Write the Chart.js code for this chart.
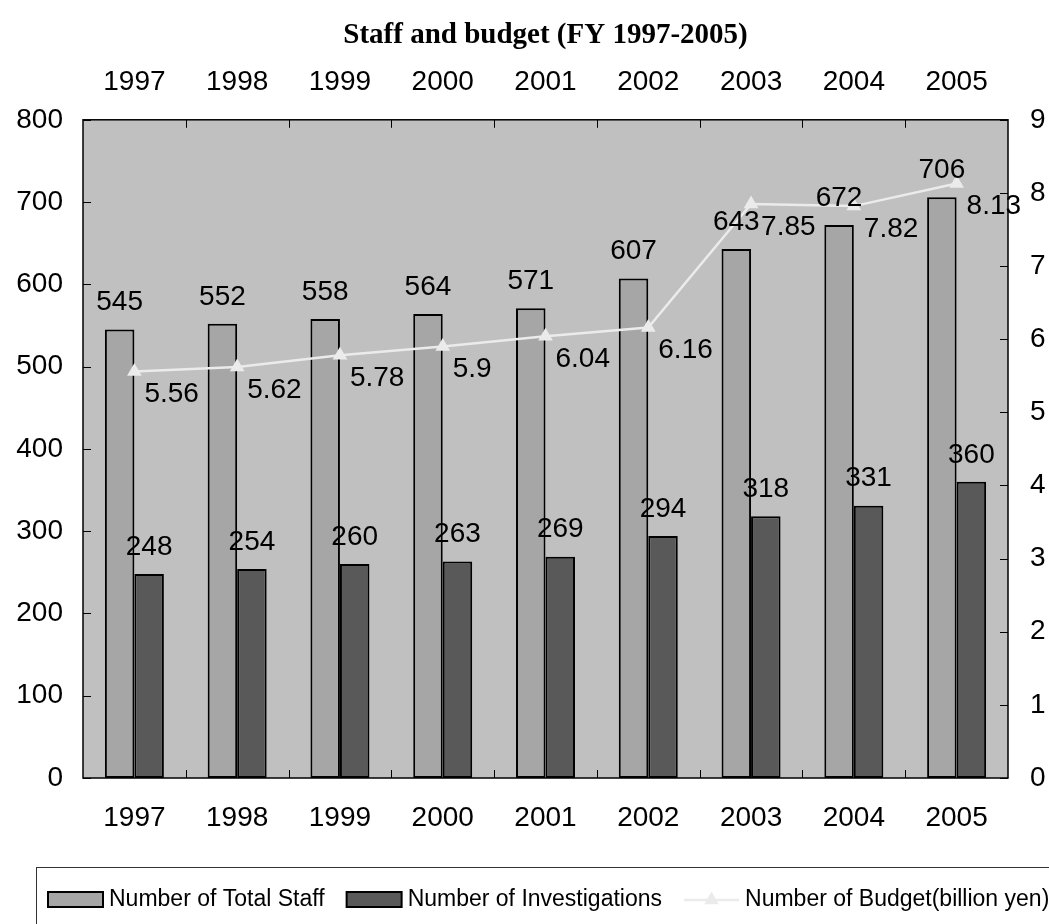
<!DOCTYPE html>
<html><head><meta charset="utf-8">
<script src="https://cdn.jsdelivr.net/npm/chart.js@4.4.0/dist/chart.umd.min.js"></script>
<style>html,body{margin:0;padding:0;background:#fff;}#wrap{position:relative;width:1049px;height:924px;}</style>
</head><body><div id="wrap"><canvas id="c" width="1049" height="924"></canvas></div>
<script>
const years = ['1997','1998','1999','2000','2001','2002','2003','2004','2005'];
const totalStaff = [545, 552, 558, 564, 571, 607, 643, 672, 706];
const investigations = [248, 254, 260, 263, 269, 294, 318, 331, 360];
const budget = [5.56, 5.62, 5.78, 5.9, 6.04, 6.16, 7.85, 7.82, 8.13];
const chartTitle = 'Staff and budget (FY 1997-2005)';
const seriesNames = ['Number of Total Staff', 'Number of Investigations', 'Number of Budget(billion yen)'];

const SANS = "'Liberation Sans', Arial, sans-serif";
const SERIF = "'Liberation Serif', 'Times New Roman', serif";
const C_LIGHT = '#a6a6a6', C_DARK = '#595959', C_LINE = '#ebebeb', C_BG = '#c0c0c0';

function hline(ctx, x1, y1, x2, y2) { ctx.beginPath(); ctx.moveTo(x1, y1); ctx.lineTo(x2, y2); ctx.stroke(); }

const decor = {
  id: 'decor',
  beforeDatasetsDraw(chart) {
    const { ctx, chartArea: a } = chart;
    ctx.save();
    ctx.fillStyle = C_BG;
    ctx.fillRect(a.left, a.top, a.right - a.left, a.bottom - a.top);
    ctx.restore();
  },
  afterDatasetsDraw(chart) {
    const { ctx, chartArea: a, scales } = chart;
    ctx.save();
    ctx.strokeStyle = '#000';
    ctx.lineWidth = 1.5;
    ctx.strokeRect(a.left, a.top, a.right - a.left, a.bottom - a.top);
    ctx.lineWidth = 1;
    scales.y.ticks.forEach(t => {
      const py = Math.round(scales.y.getPixelForValue(t.value)) + 0.5;
      hline(ctx, a.left, py, a.left + 8, py);
    });
    scales.y1.ticks.forEach(t => {
      const py = Math.round(scales.y1.getPixelForValue(t.value)) + 0.5;
      hline(ctx, a.right - 8, py, a.right, py);
    });
    for (let i = 1; i < years.length; i++) {
      const px = Math.round((scales.x.getPixelForValue(i - 1) + scales.x.getPixelForValue(i)) / 2) + 0.5;
      hline(ctx, px, a.bottom, px, a.bottom - 8);
      hline(ctx, px, a.top, px, a.top + 8);
    }
    // data labels
    ctx.fillStyle = '#000';
    ctx.font = '28px ' + SANS;
    ctx.textBaseline = 'middle';
    const barLabelBoxes = [];
    [0, 1].forEach(di => {
      const meta = chart.getDatasetMeta(di);
      const ds = chart.data.datasets[di];
      meta.data.forEach((el, i) => {
        const txt = String(ds.data[i]);
        const cy = el.y - 27;
        ctx.textAlign = 'center';
        ctx.fillText(txt, el.x, cy);
        if (di === 0) {
          const w = ctx.measureText(txt).width;
          barLabelBoxes[i] = { right: el.x + w / 2, top: cy - 12, bottom: cy + 12 };
        }
      });
    });
    const lmeta = chart.getDatasetMeta(2);
    const lds = chart.data.datasets[2];
    lmeta.data.forEach((el, i) => {
      const txt = String(lds.data[i]);
      let x = el.x + 10;
      const cy = el.y + 23;
      const b = barLabelBoxes[i];
      if (b && cy + 12 > b.top && cy - 12 < b.bottom && x < b.right) x = b.right;
      ctx.textAlign = 'left';
      ctx.fillText(txt, x, cy);
    });
    ctx.restore();
  },
  afterDraw(chart) {
    const { ctx } = chart;
    ctx.save();
    ctx.strokeStyle = '#333';
    ctx.lineWidth = 1;
    ctx.strokeRect(36.5, 867.5, 1100, 100);
    ctx.font = '23px ' + SANS;
    ctx.textBaseline = 'middle';
    ctx.textAlign = 'left';
    const cy = 900;
    let x = 48;
    const sw = 55;
    chart.data.datasets.forEach((ds, i) => {
      if (ds.type === 'line') {
        ctx.strokeStyle = ds.borderColor;
        ctx.lineWidth = 2.5;
        hline(ctx, x, cy, x + sw, cy);
        ctx.fillStyle = ds.pointBackgroundColor;
        const r = 8.5, cx = x + sw / 2;
        ctx.beginPath();
        ctx.moveTo(cx, cy - r);
        ctx.lineTo(cx + r * Math.sqrt(3) / 2, cy + r / 2);
        ctx.lineTo(cx - r * Math.sqrt(3) / 2, cy + r / 2);
        ctx.closePath();
        ctx.fill();
      } else {
        ctx.fillStyle = ds.backgroundColor;
        ctx.fillRect(x, cy - 8, sw, 15);
        ctx.strokeStyle = '#000';
        ctx.lineWidth = 2;
        ctx.strokeRect(x, cy - 8, sw, 15);
      }
      ctx.fillStyle = '#000';
      const tx = x + sw + 6;
      ctx.fillText(ds.label, tx, cy);
      x = tx + ctx.measureText(ds.label).width + 22;
    });
    ctx.restore();
  }
};

new Chart(document.getElementById('c'), {
  data: {
    labels: years,
    datasets: [
      { type: 'bar', label: seriesNames[0], data: totalStaff, backgroundColor: C_LIGHT, borderColor: '#000', borderWidth: 2, borderSkipped: false, yAxisID: 'y', xAxisID: 'x', order: 1, categoryPercentage: 0.574, barPercentage: 1.0 },
      { type: 'bar', label: seriesNames[1], data: investigations, backgroundColor: C_DARK, borderColor: '#000', borderWidth: 2, borderSkipped: false, yAxisID: 'y', xAxisID: 'x', order: 2, categoryPercentage: 0.574, barPercentage: 1.0 },
      { type: 'line', label: seriesNames[2], data: budget, borderColor: C_LINE, borderWidth: 2.5, pointStyle: 'triangle', pointRadius: 8.5, pointBackgroundColor: C_LINE, pointBorderColor: C_LINE, pointBorderWidth: 0, yAxisID: 'y1', xAxisID: 'x', order: 0, tension: 0, fill: false }
    ]
  },
  options: {
    responsive: false,
    animation: false,
    devicePixelRatio: 1,
    layout: { padding: { top: 0, left: 0, right: 0, bottom: 86 } },
    plugins: {
      legend: { display: false },
      tooltip: { enabled: false },
      title: { display: true, fullSize: false, text: chartTitle, color: '#000', font: { family: SERIF, size: 29, weight: 'bold' }, padding: { top: 18, bottom: 0 } }
    },
    scales: {
      x: {
        type: 'category', position: 'bottom', offset: true,
        grid: { display: false, drawTicks: false }, border: { display: false },
        ticks: { color: '#000', font: { family: SANS, size: 28 }, padding: 23, maxRotation: 0 },
        afterFit(s) { s.height = 60; }
      },
      x2: {
        type: 'category', position: 'top', offset: true, labels: years,
        grid: { display: false, drawTicks: false }, border: { display: false },
        ticks: { color: '#000', font: { family: SANS, size: 28 }, padding: 21, maxRotation: 0 },
        afterFit(s) { s.height = 67; }
      },
      y: {
        position: 'left', min: 0, max: 800,
        grid: { display: false, drawTicks: false }, border: { display: false },
        ticks: { stepSize: 100, color: '#000', font: { family: SANS, size: 28 }, padding: 20 },
        afterFit(s) { s.width = 83; }
      },
      y1: {
        position: 'right', min: 0, max: 9,
        grid: { display: false, drawTicks: false }, border: { display: false },
        ticks: { stepSize: 1, color: '#000', font: { family: SANS, size: 28 }, padding: 22 },
        afterFit(s) { s.width = 41; }
      }
    }
  },
  plugins: [decor]
});
</script>
</body></html>
